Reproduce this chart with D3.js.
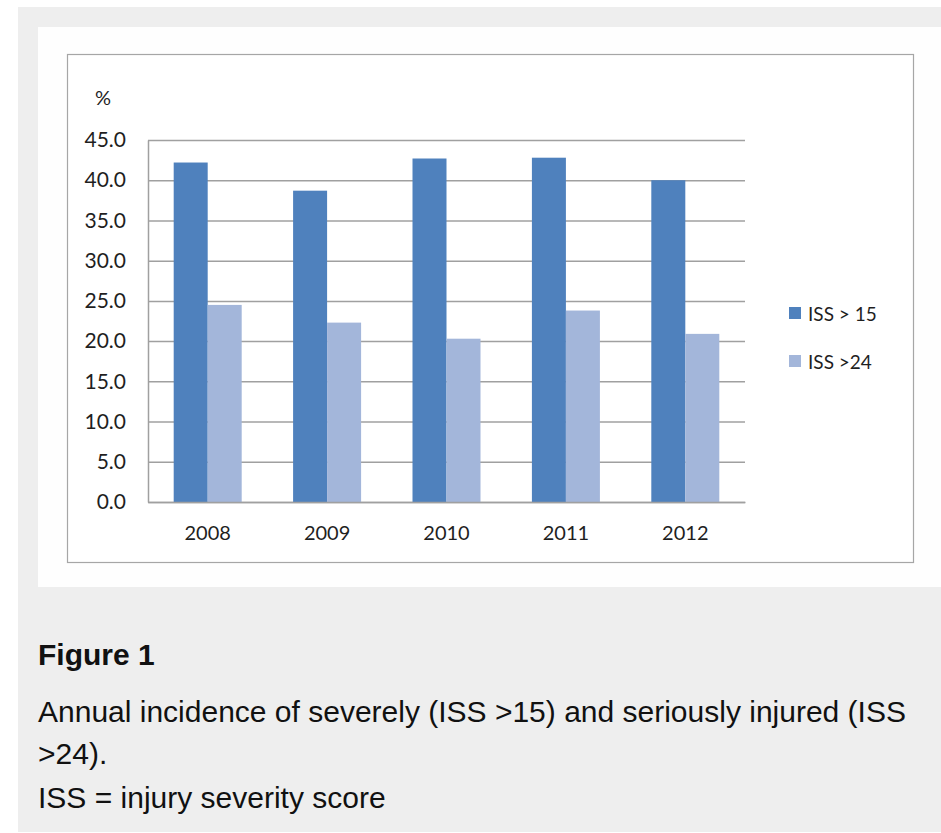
<!DOCTYPE html>
<html>
<head>
<meta charset="utf-8">
<script src="https://cdn.jsdelivr.net/npm/d3@7"></script>
<style>
  html, body { margin: 0; padding: 0; background: #fff; }
  svg { display: block; }
</style>
</head>
<body>
<svg id="fig" width="941" height="833"></svg>
<script>
// Annual incidence (%) of severely and seriously injured patients
const years = ["2008", "2009", "2010", "2011", "2012"];
const seriesNames = ["ISS > 15", "ISS >24"];
const iss15 = [42.2, 38.7, 42.7, 42.8, 40.0];
const iss24 = [24.5, 22.3, 20.3, 23.8, 20.9];
const yTicks = [0, 5, 10, 15, 20, 25, 30, 35, 40, 45];
const seriesColors = ["#4f81bd", "#a3b6da"];

const svg = d3.select("#fig");
const chartFont = "Lato, 'Open Sans', sans-serif";
const captionFont = "'Liberation Sans', Arial, sans-serif";
const labelColor = "#1f1f1f";

// page panels
svg.append("rect").attr("x", 18).attr("y", 7).attr("width", 923).attr("height", 825).attr("fill", "#eeeeee");
svg.append("rect").attr("x", 38).attr("y", 27).attr("width", 903).attr("height", 560).attr("fill", "#fefefe");
svg.append("rect").attr("x", 67.5).attr("y", 54.5).attr("width", 846).attr("height", 508)
  .attr("fill", "#fff").attr("stroke", "#a6a6a6").attr("stroke-width", 1.2);

// scales
const plotLeft = 148, plotRight = 745, plotTop = 140, plotBottom = 502;
const x = d3.scaleBand().domain(years).range([plotLeft, plotRight]).paddingInner(0.4305).paddingOuter(0.2152);
const xs = d3.scaleBand().domain(seriesNames).range([0, x.bandwidth()]);
const y = d3.scaleLinear().domain([0, 45]).range([plotBottom, plotTop]);

// y axis with gridlines
const yAxis = svg.append("g").attr("transform", `translate(${plotLeft},0)`)
  .call(d3.axisLeft(y).tickValues(yTicks).tickFormat(d3.format(".1f"))
    .tickSize(-(plotRight - plotLeft)).tickSizeOuter(0).tickPadding(22));
yAxis.selectAll(".tick line").attr("stroke", "#a0a0a0").attr("stroke-width", 1.5);
yAxis.select(".domain").attr("stroke", "#a0a0a0").attr("stroke-width", 1.5);
yAxis.selectAll("text").attr("font-family", chartFont).attr("font-size", 21).attr("fill", labelColor);

// bars
const rows = years.map((yr, i) => ({ year: yr, values: [iss15[i], iss24[i]] }));
const groups = svg.append("g").selectAll("g").data(rows).join("g")
  .attr("transform", d => `translate(${x(d.year)},0)`);
groups.selectAll("rect").data(d => d.values.map((v, j) => ({ key: seriesNames[j], v, j })))
  .join("rect")
  .attr("x", d => xs(d.key))
  .attr("width", xs.bandwidth())
  .attr("y", d => y(d.v))
  .attr("height", d => y(0) - y(d.v))
  .attr("fill", d => seriesColors[d.j]);

// x axis
const xAxis = svg.append("g").attr("transform", `translate(0,${plotBottom})`)
  .call(d3.axisBottom(x).tickSize(0).tickPadding(24).tickSizeOuter(0));
xAxis.select(".domain").attr("stroke", "#a0a0a0").attr("stroke-width", 1.5);
xAxis.selectAll("text").attr("font-family", chartFont).attr("font-size", 20).attr("fill", labelColor);

// unit label
svg.append("text").attr("x", 95).attr("y", 105).text("%")
  .attr("font-family", chartFont).attr("font-size", 20).attr("fill", labelColor);

// legend
const legend = svg.append("g").selectAll("g").data(seriesNames).join("g")
  .attr("transform", (d, i) => `translate(789,${307 + i * 48})`);
legend.append("rect").attr("width", 12).attr("height", 12).attr("fill", (d, i) => seriesColors[i]);
legend.append("text").attr("x", 19).attr("y", 14).text(d => d)
  .attr("font-family", chartFont).attr("font-size", 19).attr("fill", labelColor);

// caption
svg.append("text").attr("x", 38).attr("y", 665).text("Figure 1")
  .attr("font-family", captionFont).attr("font-weight", "bold").attr("font-size", 30).attr("fill", "#111");
const captionLines = [
  "Annual incidence of severely (ISS >15) and seriously injured (ISS",
  ">24).",
  "ISS = injury severity score"
];
const captionY = [722, 764, 808];
svg.append("g").selectAll("text").data(captionLines).join("text")
  .attr("x", 38).attr("y", (d, i) => captionY[i]).text(d => d)
  .attr("font-family", captionFont).attr("font-size", 30).attr("fill", "#111");
</script>
</body>
</html>
